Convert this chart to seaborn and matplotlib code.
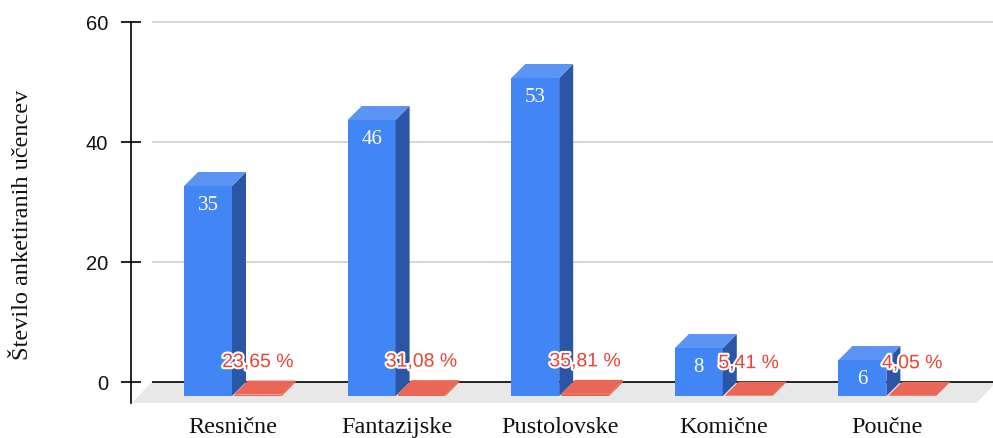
import numpy as np
import pandas as pd
import seaborn as sns
from matplotlib import pyplot as plt
from matplotlib.patches import Polygon
import matplotlib.patheffects as pe

categories = ['Resnične', 'Fantazijske', 'Pustolovske', 'Komične', 'Poučne']
students = [35, 46, 53, 8, 6]
percentages = [23.65, 31.08, 35.81, 5.41, 4.05]

blue = '#4285F4'
blue_top = '#5B94F3'
blue_side = '#2B56A6'
red = '#EA6656'
red_text = '#E94335'

df = pd.DataFrame({
    'Zvrst': categories * 2,
    'Vrednost': students + [p / 100 for p in percentages],
    'Serija': ['Učenci'] * len(categories) + ['Delež'] * len(categories),
})

fig = plt.figure(figsize=(9.93, 4.39), dpi=100)
ax = fig.add_axes([131 / 993, (439 - 404) / 439, (993 - 131) / 993, (404 - 23) / 439])

sns.barplot(data=df, x='Zvrst', y='Vrednost', hue='Serija', palette=[blue, red],
            saturation=1, width=0.61, gap=0.04, legend=False, ax=ax)

ax.set_xlim(-0.709, 4.56)
ax.set_ylim(-3.5, 60)

# pixel offsets -> data offsets (depth of the 3d look)
inv = ax.transData.inverted()
p0 = inv.transform((0, 0))
p1 = inv.transform((14, 14))
ddx, ddy = p1[0] - p0[0], p1[1] - p0[1]
p2 = inv.transform((20, 21))
fdx, fdy = p2[0] - p0[0], p2[1] - p0[1]

floor_left = -0.581
floor_right = len(categories) - 1 - floor_left
floor = Polygon([(floor_left, 0), (floor_right, 0), (floor_right - fdx, -fdy), (floor_left - fdx, -fdy)],
                closed=True, facecolor='#E8E8E8', edgecolor='none', zorder=0.5)
ax.add_patch(floor)

ax.hlines([20, 40, 60], floor_left, floor_right, color='#CFCFCF', lw=1.2, zorder=1, clip_on=False)
ax.hlines(0, floor_left, floor_right, color='black', lw=1.2, zorder=1)

bars = [b for b in ax.patches if b is not floor]
n = len(categories)
for k, bar in enumerate(bars):
    x, w, h = bar.get_x(), bar.get_width(), bar.get_height()
    is_blue = k < n
    side_c = blue_side if is_blue else red
    top_c = blue_top if is_blue else red
    bar.set_x(x - ddx)
    bar.set_y(-ddy)
    bar.set_zorder(3)
    bar.set_edgecolor('none')
    side = Polygon([(x + w - ddx, -ddy), (x + w - ddx, h - ddy), (x + w, h), (x + w, 0)],
                   closed=True, facecolor=side_c, edgecolor='none', zorder=3)
    top = Polygon([(x - ddx, h - ddy), (x + w - ddx, h - ddy), (x + w, h), (x, h)],
                  closed=True, facecolor=top_c, edgecolor='none', zorder=3)
    ax.add_patch(side)
    ax.add_patch(top)
    cx = x - ddx + w / 2
    if is_blue:
        ax.annotate(f'{students[k]}', xy=(cx, h - ddy), xytext=(0, -19), textcoords='offset pixels',
                    ha='center', va='center', color='white', fontsize=15,
                    family='Liberation Serif', zorder=5)
    else:
        lbl = f'{percentages[k - n]:.2f}'.replace('.', ',') + ' %'
        ax.annotate(lbl, xy=(cx, h - ddy), xytext=(0, 32), textcoords='offset pixels',
                    ha='center', va='center', color=red_text, fontsize=14,
                    family='Liberation Sans', zorder=6,
                    path_effects=[pe.withStroke(linewidth=3, foreground='white')])

# category labels on the front plane
ax.set_xticks(range(n))
ax.set_xticklabels([])
ax.tick_params(axis='x', length=0)
for i, cat in enumerate(categories):
    ax.annotate(cat, xy=(i, 0), xycoords=('data', 'axes fraction'), xytext=(-14, -24),
                textcoords='offset pixels', ha='center', va='center', fontsize=17.5,
                family='Liberation Serif', color='#111111')

ax.set_yticks([0, 20, 40, 60])
ax.set_yticklabels(['0', '20', '40', '60'], family='Liberation Sans')
ax.tick_params(axis='y', direction='inout', length=15, width=1.2, labelsize=14.5,
               pad=9, colors='black', labelcolor='#111111')

for s in ['top', 'right', 'bottom']:
    ax.spines[s].set_visible(False)
ax.spines['left'].set_color('black')
ax.spines['left'].set_linewidth(1.2)
ax.set_xlabel('')
ax.set_ylabel('')
ax.set_facecolor('white')

fig.text(23 / 993, 1 - 225 / 439, 'Število anketiranih učencev', rotation=90, ha='center', va='center',
         fontsize=17.5, family='Liberation Serif', color='#111111')

plt.savefig('out.png', dpi=100)
